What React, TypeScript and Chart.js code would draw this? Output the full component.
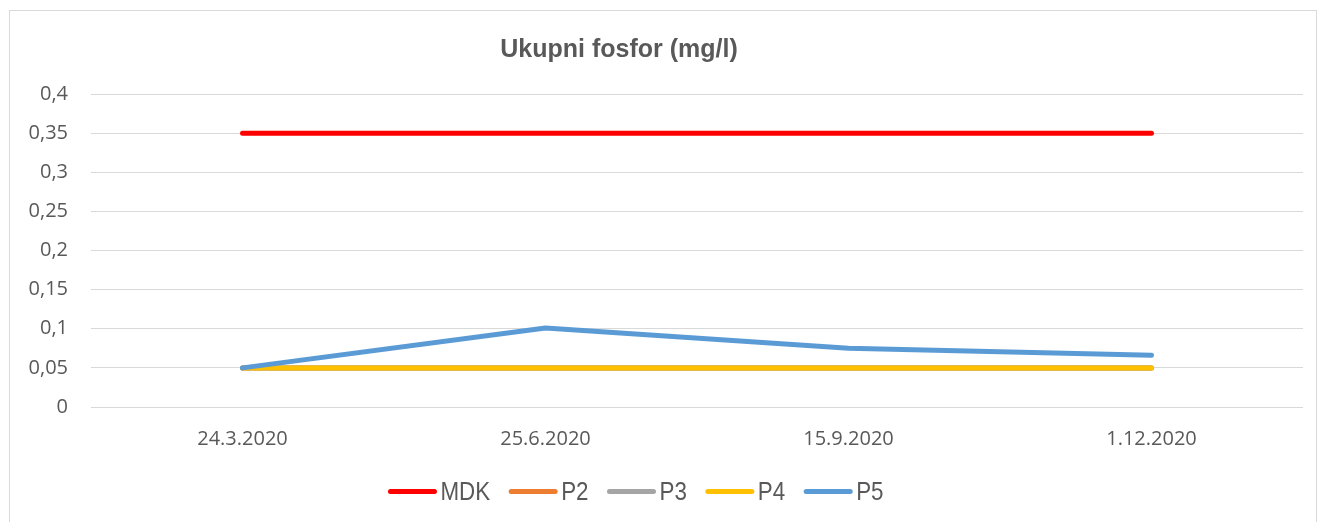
import React, { useEffect, useRef } from "react";
import { Chart, registerables } from "chart.js";

Chart.register(...registerables);

const title = "Ukupni fosfor (mg/l)";
const categories = ["24.3.2020", "25.6.2020", "15.9.2020", "1.12.2020"];
const seriesNames = ["MDK", "P2", "P3", "P4", "P5"];
const seriesColors = ["#FF0000", "#ED7D31", "#A5A5A5", "#FFC000", "#5B9BD5"];
const mdk = [0.35, 0.35, 0.35, 0.35];
const p2 = [0.05, 0.05, 0.05, 0.05];
const p3 = [0.05, 0.05, 0.05, 0.05];
const p4 = [0.05, 0.05, 0.05, 0.05];
const p5 = [0.05, 0.101, 0.075, 0.066];
const seriesValues = [mdk, p2, p3, p4, p5];
const yMin = 0;
const yMax = 0.4;
const yStep = 0.05;

const textColor = "#595959";
const gridColor = "#D9D9D9";

const decorPlugin = {
  id: "decor",
  beforeDraw(chart: any) {
    const ctx = chart.ctx;
    ctx.save();
    ctx.strokeStyle = gridColor;
    ctx.lineWidth = 1;
    ctx.strokeRect(9.5, 10.5, 1307, 540);
    ctx.restore();
  },
  afterDraw(chart: any) {
    const ctx = chart.ctx;
    ctx.save();
    // title
    ctx.fillStyle = textColor;
    ctx.font = "bold 25px 'Liberation Sans', Arial, sans-serif";
    ctx.textAlign = "center";
    ctx.textBaseline = "alphabetic";
    ctx.fillText(title, 619, 57);
    // legend (condensed text like the reference)
    ctx.font = "26px 'Liberation Sans', Arial, sans-serif";
    const squeeze = 0.86;
    const sample = 48;
    const gap = 4;
    const itemGap = 19;
    const widths = seriesNames.map((n) => sample + gap + ctx.measureText(n).width * squeeze);
    const total = widths.reduce((a, b) => a + b, 0) + itemGap * (widths.length - 1);
    let x = 636 - total / 2;
    const yLine = 491.5;
    ctx.textAlign = "left";
    seriesNames.forEach((n, i) => {
      ctx.strokeStyle = seriesColors[i];
      ctx.lineWidth = 5;
      ctx.lineCap = "round";
      ctx.beginPath();
      ctx.moveTo(x + 2, yLine);
      ctx.lineTo(x + sample - 2, yLine);
      ctx.stroke();
      ctx.fillStyle = textColor;
      ctx.save();
      ctx.translate(x + sample + gap, 500);
      ctx.scale(squeeze, 1);
      ctx.fillText(n, 0, 0);
      ctx.restore();
      x += widths[i] + itemGap;
    });
    ctx.restore();
  },
};

export default function App() {
  const ref = useRef<HTMLCanvasElement | null>(null);
  useEffect(() => {
    document.body.style.margin = "0";
    const canvas = ref.current;
    if (!canvas) return;
    const chart = new Chart(canvas, {
      type: "line",
      data: {
        labels: categories,
        datasets: seriesNames.map((name, i) => ({
          label: name,
          data: seriesValues[i],
          borderColor: seriesColors[i],
          backgroundColor: seriesColors[i],
          borderWidth: 5,
          borderCapStyle: "round",
          borderJoinStyle: "round",
          pointRadius: 0,
          pointHoverRadius: 0,
          tension: 0,
          fill: false,
          order: seriesNames.length - i,
        })),
      },
      options: {
        animation: false,
        responsive: false,
        maintainAspectRatio: false,
        layout: { padding: { left: 0, right: 19, top: 94, bottom: 0 } },
        plugins: {
          legend: { display: false },
          title: { display: false },
          tooltip: { enabled: false },
        },
        scales: {
          x: {
            offset: true,
            grid: { display: false, drawTicks: false },
            border: { display: false },
            ticks: {
              color: textColor,
              font: { family: "'Open Sans', sans-serif", size: 20 },
              padding: 20,
              maxRotation: 0,
            },
            afterFit: (scale: any) => {
              scale.height = 115;
            },
          },
          y: {
            min: yMin,
            max: yMax,
            grid: { color: gridColor, lineWidth: 1, drawTicks: false },
            border: { display: false },
            ticks: {
              stepSize: yStep,
              color: textColor,
              font: { family: "'Open Sans', sans-serif", size: 20 },
              padding: 23,
              callback: (v: any) => {
                const n = Math.round(Number(v) * 100) / 100;
                return String(n).replace(".", ",");
              },
            },
            afterFit: (scale: any) => {
              scale.width = 91;
            },
          },
        },
      },
      plugins: [decorPlugin],
    });
    return () => chart.destroy();
  }, []);
  return <canvas ref={ref} width={1322} height={522} style={{ display: "block" }} />;
}
